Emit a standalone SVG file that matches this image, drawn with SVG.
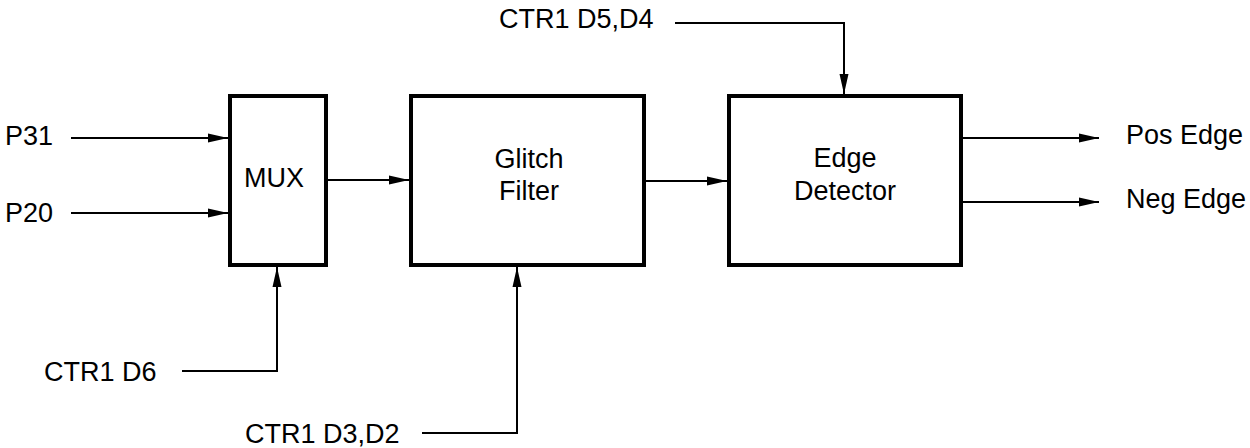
<svg xmlns="http://www.w3.org/2000/svg" width="1250" height="448" viewBox="0 0 1250 448">
<style>
.box{fill:#fff;stroke:#000;stroke-width:4}
.lbl{font-family:"Liberation Sans",Arial,sans-serif;font-size:27px;fill:#000}
.mid{text-anchor:middle}
.wire{fill:none;stroke:#000;stroke-width:2}
</style>
<defs>
<marker id="arr" viewBox="0 0 20 10" refX="20" refY="5" markerWidth="20" markerHeight="10" orient="auto" markerUnits="userSpaceOnUse">
<path d="M0,0.5 L20,5 L0,9.5 z" fill="#000"/>
</marker>
</defs>
<rect width="1250" height="448" fill="#fff"/>
<g id="connectors">
<path class="wire" d="M71,138 H228" marker-end="url(#arr)"/>
<path class="wire" d="M71,213 H228" marker-end="url(#arr)"/>
<path class="wire" d="M328,180 H409" marker-end="url(#arr)"/>
<path class="wire" d="M646,181 H727" marker-end="url(#arr)"/>
<path class="wire" d="M963,138 H1099" marker-end="url(#arr)"/>
<path class="wire" d="M963,202 H1099" marker-end="url(#arr)"/>
<path class="wire" d="M675,23 H844 V94" marker-end="url(#arr)"/>
<path class="wire" d="M182,371 H277 V267" marker-end="url(#arr)"/>
<path class="wire" d="M422,433 H517 V267" marker-end="url(#arr)"/>
</g>
<g id="mux">
<rect class="box" x="230" y="96" width="96" height="169"/>
<text class="lbl mid" x="274" y="187">MUX</text>
</g>
<g id="glitch-filter">
<rect class="box" x="411" y="96" width="233" height="169"/>
<text class="lbl mid" x="529" y="168">Glitch</text>
<text class="lbl mid" x="529" y="200">Filter</text>
</g>
<g id="edge-detector">
<rect class="box" x="729" y="96" width="232" height="169"/>
<text class="lbl mid" x="845" y="167">Edge</text>
<text class="lbl mid" x="845" y="200">Detector</text>
</g>
<g id="p31"><text class="lbl" x="5" y="145">P31</text></g>
<g id="p20"><text class="lbl" x="5" y="222">P20</text></g>
<g id="ctr1-d5d4"><text class="lbl" x="499" y="28">CTR1 D5,D4</text></g>
<g id="pos-edge"><text class="lbl" x="1126" y="144">Pos Edge</text></g>
<g id="neg-edge"><text class="lbl" x="1126" y="208">Neg Edge</text></g>
<g id="ctr1-d6"><text class="lbl" x="44" y="381">CTR1 D6</text></g>
<g id="ctr1-d3d2"><text class="lbl" x="245" y="443">CTR1 D3,D2</text></g>
</svg>
